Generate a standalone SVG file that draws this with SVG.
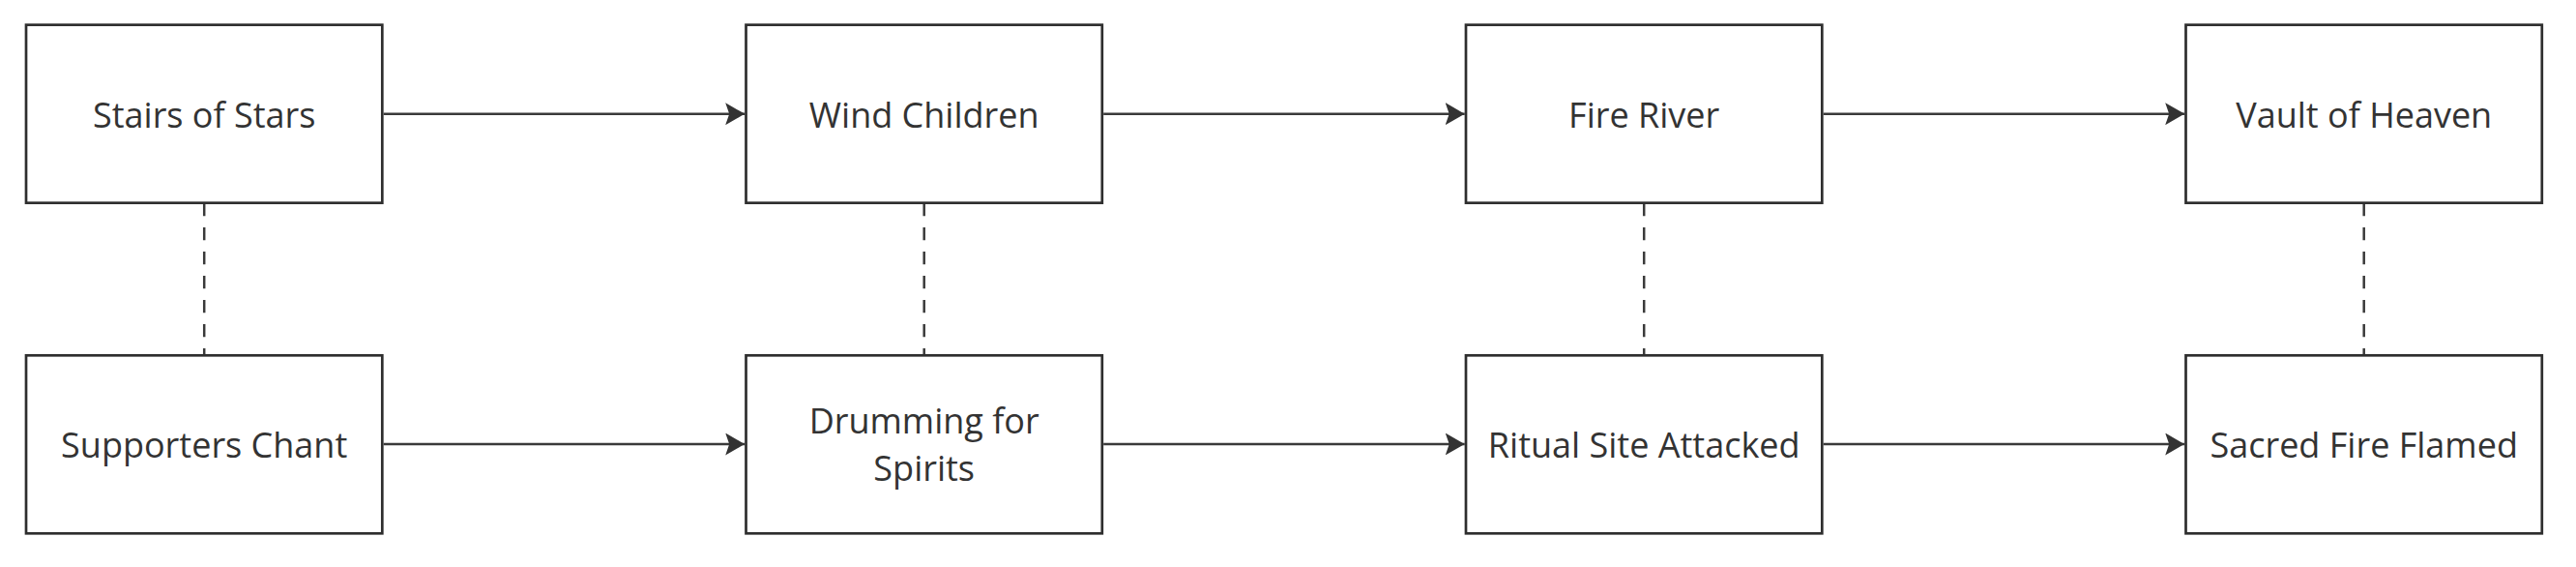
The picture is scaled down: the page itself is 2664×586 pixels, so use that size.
<svg xmlns="http://www.w3.org/2000/svg" width="2664" height="586" viewBox="0 0 2664 586">
  <defs>
    <style>
      .node rect { fill: #ffffff; stroke: #2e2e2e; stroke-width: 2.7; }
      .node text { font-family: "Open Sans", "Noto Sans", "Liberation Sans", sans-serif; font-size: 36px; fill: #333333; text-anchor: middle; }
      .flow { stroke: #3a3a3a; stroke-width: 2.4; fill: none; marker-end: url(#arrow); }
      .link { stroke: #3a3a3a; stroke-width: 2.5; fill: none; stroke-dasharray: 13.3 11.7; }
    </style>
    <marker id="arrow" markerUnits="userSpaceOnUse" viewBox="0 0 20 23" markerWidth="20" markerHeight="23" refX="20" refY="11.5" orient="auto">
      <path d="M0,0 L20,11.5 L0,23 L4,11.5 z" fill="#333333"/>
    </marker>
  </defs>
  <rect width="2664" height="586" fill="#ffffff"/>

  <g id="connectors">
    <line class="flow" x1="396.7" y1="117.7" x2="770.2" y2="117.7"/>
    <line class="flow" x1="1141.2" y1="117.7" x2="1514.7" y2="117.7"/>
    <line class="flow" x1="1885.7" y1="117.7" x2="2259.2" y2="117.7"/>
    <line class="flow" x1="396.7" y1="459" x2="770.2" y2="459"/>
    <line class="flow" x1="1141.2" y1="459" x2="1514.7" y2="459"/>
    <line class="flow" x1="1885.7" y1="459" x2="2259.2" y2="459"/>
    <line class="link" x1="211.2" y1="210" x2="211.2" y2="367"/>
    <line class="link" x1="955.7" y1="210" x2="955.7" y2="367"/>
    <line class="link" x1="1700.2" y1="210" x2="1700.2" y2="367"/>
    <line class="link" x1="2444.7" y1="210" x2="2444.7" y2="367"/>
  </g>

  <g id="stairs-of-stars" class="node">
    <rect x="27" y="25.7" width="368.3" height="184"/>
    <text x="211.2" y="132">Stairs of Stars</text>
  </g>
  <g id="wind-children" class="node">
    <rect x="771.5" y="25.7" width="368.3" height="184"/>
    <text x="955.7" y="132">Wind Children</text>
  </g>
  <g id="fire-river" class="node">
    <rect x="1516" y="25.7" width="368.3" height="184"/>
    <text x="1700.2" y="132">Fire River</text>
  </g>
  <g id="vault-of-heaven" class="node">
    <rect x="2260.5" y="25.7" width="368.3" height="184"/>
    <text x="2444.7" y="132">Vault of Heaven</text>
  </g>

  <g id="supporters-chant" class="node">
    <rect x="27" y="367.3" width="368.3" height="184"/>
    <text x="211.2" y="472.7">Supporters Chant</text>
  </g>
  <g id="drumming-for-spirits" class="node">
    <rect x="771.5" y="367.3" width="368.3" height="184"/>
    <text x="955.7" y="448.4">Drumming for</text>
    <text x="955.7" y="497">Spirits</text>
  </g>
  <g id="ritual-site-attacked" class="node">
    <rect x="1516" y="367.3" width="368.3" height="184"/>
    <text x="1700.2" y="472.7">Ritual Site Attacked</text>
  </g>
  <g id="sacred-fire-flamed" class="node">
    <rect x="2260.5" y="367.3" width="368.3" height="184"/>
    <text x="2444.7" y="472.7">Sacred Fire Flamed</text>
  </g>
</svg>
